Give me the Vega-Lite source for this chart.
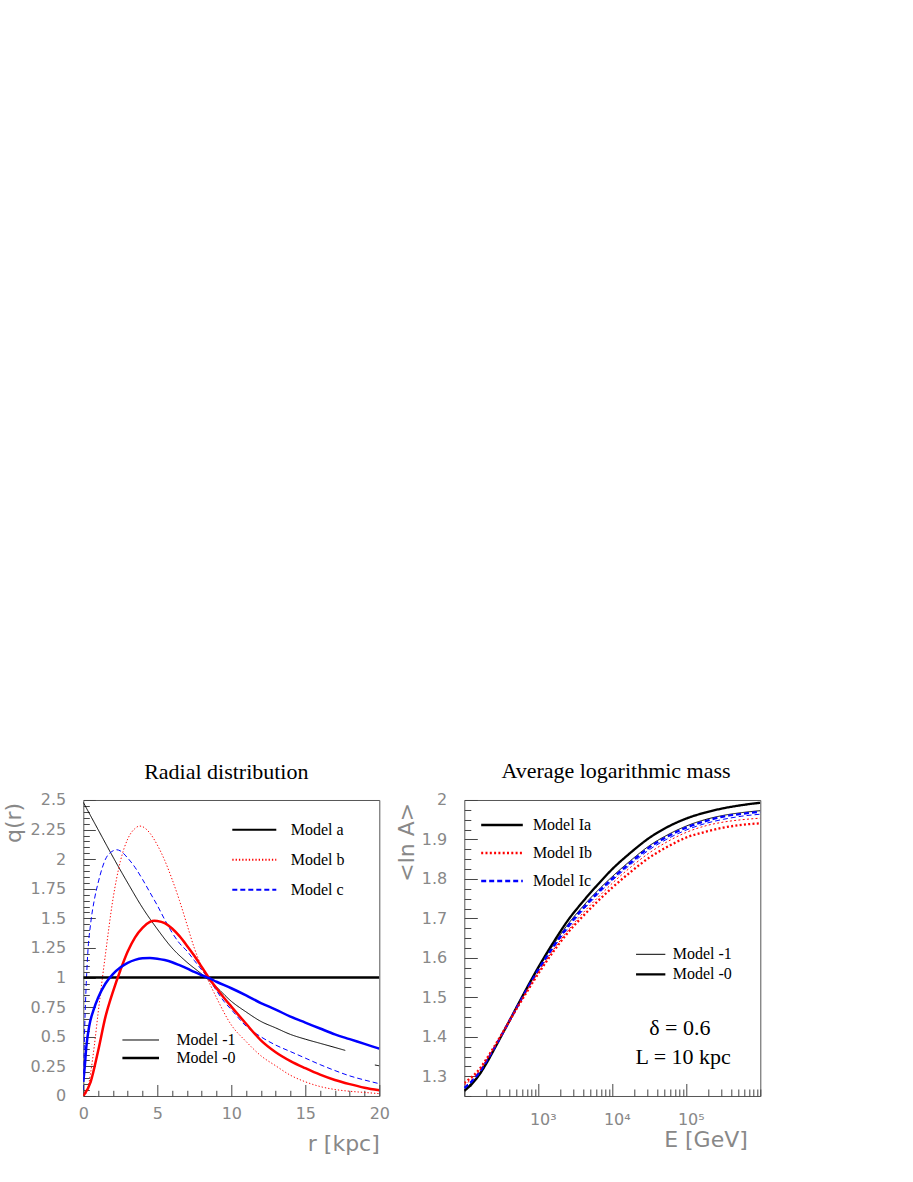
{
  "$schema": "https://vega.github.io/schema/vega-lite/v6.json",
  "background": "white",
  "padding": {"left": 2.3, "top": 760, "right": 5, "bottom": 5},
  "bounds": "flush",
  "spacing": 85,
  "config": {
    "view": {"stroke": "#555", "strokeWidth": 1},
    "mark": {"color": "black"},
    "axis": {"grid": false, "domain": false, "tickColor": "#444", "tickWidth": 1,
      "labelFont": "DejaVu Sans", "labelFontSize": 16, "labelColor": "#888",
      "titleFont": "DejaVu Sans", "titleFontSize": 22, "titleColor": "#888", "titleFontWeight": "normal",
      "labelOverlap": false, "labelFlush": false},
    "legend": {"labelFont": "Liberation Serif", "labelFontSize": 16, "labelColor": "black", "padding": 0, "rowPadding": 0},
    "title": {"font": "Liberation Serif", "fontSize": 22, "fontWeight": "normal", "color": "black", "anchor": "middle", "frame": "group"}
  },
  "resolve": {"scale": {"color": "independent", "strokeDash": "independent", "strokeWidth": "independent"}},
  "hconcat": [
    {
      "width": 296, "height": 296,
      "title": {"text": "Radial distribution", "baseline": "alphabetic", "offset": -9, "dx": -5},
      "data": {"values": [
        {"r":0,"q":2.48,"model":"Model a","variant":"Model -1","series":"a1"},
        {"r":1,"q":2.25,"model":"Model a","variant":"Model -1","series":"a1"},
        {"r":2,"q":2.02,"model":"Model a","variant":"Model -1","series":"a1"},
        {"r":3,"q":1.8,"model":"Model a","variant":"Model -1","series":"a1"},
        {"r":4,"q":1.59,"model":"Model a","variant":"Model -1","series":"a1"},
        {"r":5,"q":1.41,"model":"Model a","variant":"Model -1","series":"a1"},
        {"r":6,"q":1.25,"model":"Model a","variant":"Model -1","series":"a1"},
        {"r":7,"q":1.13,"model":"Model a","variant":"Model -1","series":"a1"},
        {"r":8,"q":1.03,"model":"Model a","variant":"Model -1","series":"a1"},
        {"r":9,"q":0.92,"model":"Model a","variant":"Model -1","series":"a1"},
        {"r":10,"q":0.8,"model":"Model a","variant":"Model -1","series":"a1"},
        {"r":11,"q":0.71,"model":"Model a","variant":"Model -1","series":"a1"},
        {"r":12,"q":0.63,"model":"Model a","variant":"Model -1","series":"a1"},
        {"r":13,"q":0.575,"model":"Model a","variant":"Model -1","series":"a1"},
        {"r":14,"q":0.52,"model":"Model a","variant":"Model -1","series":"a1"},
        {"r":15,"q":0.48,"model":"Model a","variant":"Model -1","series":"a1"},
        {"r":16,"q":0.445,"model":"Model a","variant":"Model -1","series":"a1"},
        {"r":17,"q":0.41,"model":"Model a","variant":"Model -1","series":"a1"},
        {"r":17.7,"q":0.385,"model":"Model a","variant":"Model -1","series":"a1"},
        {"r":19.7,"q":0.262,"model":"Model a","variant":"Model -1","series":"a1t"},
        {"r":20,"q":0.255,"model":"Model a","variant":"Model -1","series":"a1t"},
        {"r":0,"q":0,"model":"Model b","variant":"Model -1","series":"b1"},
        {"r":0.25,"q":0.04,"model":"Model b","variant":"Model -1","series":"b1"},
        {"r":0.5,"q":0.2,"model":"Model b","variant":"Model -1","series":"b1"},
        {"r":0.75,"q":0.43,"model":"Model b","variant":"Model -1","series":"b1"},
        {"r":1,"q":0.7,"model":"Model b","variant":"Model -1","series":"b1"},
        {"r":1.5,"q":1.2,"model":"Model b","variant":"Model -1","series":"b1"},
        {"r":2,"q":1.66,"model":"Model b","variant":"Model -1","series":"b1"},
        {"r":2.5,"q":1.98,"model":"Model b","variant":"Model -1","series":"b1"},
        {"r":3,"q":2.17,"model":"Model b","variant":"Model -1","series":"b1"},
        {"r":3.5,"q":2.26,"model":"Model b","variant":"Model -1","series":"b1"},
        {"r":3.8,"q":2.28,"model":"Model b","variant":"Model -1","series":"b1"},
        {"r":4,"q":2.275,"model":"Model b","variant":"Model -1","series":"b1"},
        {"r":4.5,"q":2.22,"model":"Model b","variant":"Model -1","series":"b1"},
        {"r":5,"q":2.12,"model":"Model b","variant":"Model -1","series":"b1"},
        {"r":5.5,"q":1.99,"model":"Model b","variant":"Model -1","series":"b1"},
        {"r":6,"q":1.83,"model":"Model b","variant":"Model -1","series":"b1"},
        {"r":6.5,"q":1.65,"model":"Model b","variant":"Model -1","series":"b1"},
        {"r":7,"q":1.45,"model":"Model b","variant":"Model -1","series":"b1"},
        {"r":7.5,"q":1.25,"model":"Model b","variant":"Model -1","series":"b1"},
        {"r":8,"q":1.09,"model":"Model b","variant":"Model -1","series":"b1"},
        {"r":8.5,"q":0.96,"model":"Model b","variant":"Model -1","series":"b1"},
        {"r":9,"q":0.83,"model":"Model b","variant":"Model -1","series":"b1"},
        {"r":10,"q":0.6,"model":"Model b","variant":"Model -1","series":"b1"},
        {"r":11,"q":0.46,"model":"Model b","variant":"Model -1","series":"b1"},
        {"r":12,"q":0.34,"model":"Model b","variant":"Model -1","series":"b1"},
        {"r":13,"q":0.255,"model":"Model b","variant":"Model -1","series":"b1"},
        {"r":14,"q":0.175,"model":"Model b","variant":"Model -1","series":"b1"},
        {"r":15,"q":0.12,"model":"Model b","variant":"Model -1","series":"b1"},
        {"r":16,"q":0.08,"model":"Model b","variant":"Model -1","series":"b1"},
        {"r":17,"q":0.055,"model":"Model b","variant":"Model -1","series":"b1"},
        {"r":18,"q":0.04,"model":"Model b","variant":"Model -1","series":"b1"},
        {"r":19,"q":0.03,"model":"Model b","variant":"Model -1","series":"b1"},
        {"r":20,"q":0.02,"model":"Model b","variant":"Model -1","series":"b1"},
        {"r":0,"q":0.05,"model":"Model c","variant":"Model -1","series":"c1"},
        {"r":0.1,"q":0.6,"model":"Model c","variant":"Model -1","series":"c1"},
        {"r":0.2,"q":0.95,"model":"Model c","variant":"Model -1","series":"c1"},
        {"r":0.3,"q":1.2,"model":"Model c","variant":"Model -1","series":"c1"},
        {"r":0.5,"q":1.46,"model":"Model c","variant":"Model -1","series":"c1"},
        {"r":0.75,"q":1.66,"model":"Model c","variant":"Model -1","series":"c1"},
        {"r":1,"q":1.8,"model":"Model c","variant":"Model -1","series":"c1"},
        {"r":1.5,"q":2.0,"model":"Model c","variant":"Model -1","series":"c1"},
        {"r":2,"q":2.07,"model":"Model c","variant":"Model -1","series":"c1"},
        {"r":2.25,"q":2.08,"model":"Model c","variant":"Model -1","series":"c1"},
        {"r":2.5,"q":2.07,"model":"Model c","variant":"Model -1","series":"c1"},
        {"r":3,"q":2.01,"model":"Model c","variant":"Model -1","series":"c1"},
        {"r":3.5,"q":1.93,"model":"Model c","variant":"Model -1","series":"c1"},
        {"r":4,"q":1.83,"model":"Model c","variant":"Model -1","series":"c1"},
        {"r":4.5,"q":1.72,"model":"Model c","variant":"Model -1","series":"c1"},
        {"r":5,"q":1.61,"model":"Model c","variant":"Model -1","series":"c1"},
        {"r":5.5,"q":1.49,"model":"Model c","variant":"Model -1","series":"c1"},
        {"r":6,"q":1.38,"model":"Model c","variant":"Model -1","series":"c1"},
        {"r":6.5,"q":1.29,"model":"Model c","variant":"Model -1","series":"c1"},
        {"r":7,"q":1.225,"model":"Model c","variant":"Model -1","series":"c1"},
        {"r":7.5,"q":1.145,"model":"Model c","variant":"Model -1","series":"c1"},
        {"r":8,"q":1.065,"model":"Model c","variant":"Model -1","series":"c1"},
        {"r":8.5,"q":0.985,"model":"Model c","variant":"Model -1","series":"c1"},
        {"r":9,"q":0.89,"model":"Model c","variant":"Model -1","series":"c1"},
        {"r":9.5,"q":0.8,"model":"Model c","variant":"Model -1","series":"c1"},
        {"r":10,"q":0.73,"model":"Model c","variant":"Model -1","series":"c1"},
        {"r":11,"q":0.59,"model":"Model c","variant":"Model -1","series":"c1"},
        {"r":12,"q":0.5,"model":"Model c","variant":"Model -1","series":"c1"},
        {"r":13,"q":0.43,"model":"Model c","variant":"Model -1","series":"c1"},
        {"r":14,"q":0.375,"model":"Model c","variant":"Model -1","series":"c1"},
        {"r":15,"q":0.32,"model":"Model c","variant":"Model -1","series":"c1"},
        {"r":16,"q":0.265,"model":"Model c","variant":"Model -1","series":"c1"},
        {"r":17,"q":0.215,"model":"Model c","variant":"Model -1","series":"c1"},
        {"r":18,"q":0.17,"model":"Model c","variant":"Model -1","series":"c1"},
        {"r":19,"q":0.135,"model":"Model c","variant":"Model -1","series":"c1"},
        {"r":20,"q":0.104,"model":"Model c","variant":"Model -1","series":"c1"},
        {"r":0,"q":1,"model":"Model a","variant":"Model -0","series":"a0"},
        {"r":20,"q":1,"model":"Model a","variant":"Model -0","series":"a0"},
        {"r":0,"q":0,"model":"Model b","variant":"Model -0","series":"b0"},
        {"r":0.5,"q":0.12,"model":"Model b","variant":"Model -0","series":"b0"},
        {"r":1,"q":0.38,"model":"Model b","variant":"Model -0","series":"b0"},
        {"r":1.5,"q":0.67,"model":"Model b","variant":"Model -0","series":"b0"},
        {"r":2,"q":0.88,"model":"Model b","variant":"Model -0","series":"b0"},
        {"r":2.5,"q":1.06,"model":"Model b","variant":"Model -0","series":"b0"},
        {"r":3,"q":1.22,"model":"Model b","variant":"Model -0","series":"b0"},
        {"r":3.5,"q":1.34,"model":"Model b","variant":"Model -0","series":"b0"},
        {"r":4,"q":1.42,"model":"Model b","variant":"Model -0","series":"b0"},
        {"r":4.5,"q":1.47,"model":"Model b","variant":"Model -0","series":"b0"},
        {"r":4.8,"q":1.48,"model":"Model b","variant":"Model -0","series":"b0"},
        {"r":5,"q":1.478,"model":"Model b","variant":"Model -0","series":"b0"},
        {"r":5.5,"q":1.46,"model":"Model b","variant":"Model -0","series":"b0"},
        {"r":6,"q":1.415,"model":"Model b","variant":"Model -0","series":"b0"},
        {"r":6.5,"q":1.35,"model":"Model b","variant":"Model -0","series":"b0"},
        {"r":7,"q":1.27,"model":"Model b","variant":"Model -0","series":"b0"},
        {"r":7.5,"q":1.185,"model":"Model b","variant":"Model -0","series":"b0"},
        {"r":8,"q":1.09,"model":"Model b","variant":"Model -0","series":"b0"},
        {"r":8.5,"q":0.995,"model":"Model b","variant":"Model -0","series":"b0"},
        {"r":9,"q":0.91,"model":"Model b","variant":"Model -0","series":"b0"},
        {"r":9.5,"q":0.83,"model":"Model b","variant":"Model -0","series":"b0"},
        {"r":10,"q":0.755,"model":"Model b","variant":"Model -0","series":"b0"},
        {"r":11,"q":0.61,"model":"Model b","variant":"Model -0","series":"b0"},
        {"r":12,"q":0.47,"model":"Model b","variant":"Model -0","series":"b0"},
        {"r":13,"q":0.37,"model":"Model b","variant":"Model -0","series":"b0"},
        {"r":14,"q":0.295,"model":"Model b","variant":"Model -0","series":"b0"},
        {"r":15,"q":0.235,"model":"Model b","variant":"Model -0","series":"b0"},
        {"r":16,"q":0.18,"model":"Model b","variant":"Model -0","series":"b0"},
        {"r":17,"q":0.135,"model":"Model b","variant":"Model -0","series":"b0"},
        {"r":18,"q":0.1,"model":"Model b","variant":"Model -0","series":"b0"},
        {"r":19,"q":0.07,"model":"Model b","variant":"Model -0","series":"b0"},
        {"r":20,"q":0.048,"model":"Model b","variant":"Model -0","series":"b0"},
        {"r":0,"q":0.12,"model":"Model c","variant":"Model -0","series":"c0"},
        {"r":0.1,"q":0.25,"model":"Model c","variant":"Model -0","series":"c0"},
        {"r":0.2,"q":0.41,"model":"Model c","variant":"Model -0","series":"c0"},
        {"r":0.4,"q":0.59,"model":"Model c","variant":"Model -0","series":"c0"},
        {"r":0.7,"q":0.73,"model":"Model c","variant":"Model -0","series":"c0"},
        {"r":1,"q":0.83,"model":"Model c","variant":"Model -0","series":"c0"},
        {"r":1.5,"q":0.95,"model":"Model c","variant":"Model -0","series":"c0"},
        {"r":2,"q":1.03,"model":"Model c","variant":"Model -0","series":"c0"},
        {"r":2.5,"q":1.085,"model":"Model c","variant":"Model -0","series":"c0"},
        {"r":3,"q":1.125,"model":"Model c","variant":"Model -0","series":"c0"},
        {"r":3.5,"q":1.15,"model":"Model c","variant":"Model -0","series":"c0"},
        {"r":4,"q":1.163,"model":"Model c","variant":"Model -0","series":"c0"},
        {"r":4.5,"q":1.166,"model":"Model c","variant":"Model -0","series":"c0"},
        {"r":5,"q":1.16,"model":"Model c","variant":"Model -0","series":"c0"},
        {"r":5.5,"q":1.148,"model":"Model c","variant":"Model -0","series":"c0"},
        {"r":6,"q":1.13,"model":"Model c","variant":"Model -0","series":"c0"},
        {"r":6.5,"q":1.105,"model":"Model c","variant":"Model -0","series":"c0"},
        {"r":7,"q":1.078,"model":"Model c","variant":"Model -0","series":"c0"},
        {"r":7.5,"q":1.048,"model":"Model c","variant":"Model -0","series":"c0"},
        {"r":8,"q":1.02,"model":"Model c","variant":"Model -0","series":"c0"},
        {"r":8.5,"q":0.995,"model":"Model c","variant":"Model -0","series":"c0"},
        {"r":9,"q":0.965,"model":"Model c","variant":"Model -0","series":"c0"},
        {"r":10,"q":0.91,"model":"Model c","variant":"Model -0","series":"c0"},
        {"r":11,"q":0.85,"model":"Model c","variant":"Model -0","series":"c0"},
        {"r":12,"q":0.785,"model":"Model c","variant":"Model -0","series":"c0"},
        {"r":13,"q":0.73,"model":"Model c","variant":"Model -0","series":"c0"},
        {"r":14,"q":0.67,"model":"Model c","variant":"Model -0","series":"c0"},
        {"r":15,"q":0.62,"model":"Model c","variant":"Model -0","series":"c0"},
        {"r":16,"q":0.57,"model":"Model c","variant":"Model -0","series":"c0"},
        {"r":17,"q":0.52,"model":"Model c","variant":"Model -0","series":"c0"},
        {"r":18,"q":0.48,"model":"Model c","variant":"Model -0","series":"c0"},
        {"r":19,"q":0.44,"model":"Model c","variant":"Model -0","series":"c0"},
        {"r":20,"q":0.4,"model":"Model c","variant":"Model -0","series":"c0"}
      ]},
      "encoding": {
        "x": {"field": "r", "type": "quantitative", "title": "r [kpc]",
          "scale": {"domain": [0, 20], "nice": false, "zero": false},
          "axis": {
            "values": [0,1,2,3,4,5,6,7,8,9,10,11,12,13,14,15,16,17,18,19,20],
            "tickSize": {"condition": {"test": "datum.value % 5 === 0", "value": -11.5}, "value": -5.7},
            "labelExpr": "datum.value % 5 === 0 ? datum.label : ''",
            "labelPadding": 21, "labelOverlap": false,
            "titleAnchor": "end", "titleAlign": "right", "titleBaseline": "alphabetic", "titleX": 296, "titleY": 55
          }},
        "y": {"field": "q", "type": "quantitative", "title": "q(r)",
          "scale": {"domain": [0, 2.5], "nice": false},
          "axis": {
            "values": [0,0.05,0.1,0.15,0.2,0.25,0.3,0.35,0.4,0.45,0.5,0.55,0.6,0.65,0.7,0.75,0.8,0.85,0.9,0.95,1,1.05,1.1,1.15,1.2,1.25,1.3,1.35,1.4,1.45,1.5,1.55,1.6,1.65,1.7,1.75,1.8,1.85,1.9,1.95,2,2.05,2.1,2.15,2.2,2.25,2.3,2.35,2.4,2.45,2.5],
            "tickSize": {"condition": {"test": "abs(datum.value*4 - round(datum.value*4)) < 0.001", "value": -12}, "value": -6},
            "labelExpr": "abs(datum.value*4 - round(datum.value*4)) < 0.001 ? format(datum.value, '~g') : ''",
            "labelPadding": 29.6, "labelOverlap": false,
            "titleAlign": "right", "titleBaseline": "alphabetic", "titleX": -62.3, "titleY": 2.3
          }},
        "color": {"field": "model", "type": "nominal",
          "scale": {"domain": ["Model a", "Model b", "Model c"], "range": ["#000000", "#ff0000", "#0000ff"]},
          "legend": {"title": null, "orient": "none", "legendX": 148, "legendY": 14.7, "symbolType": "stroke", "symbolSize": 1936, "symbolStrokeWidth": 2, "clipHeight": 30, "labelOffset": 13.5}},
        "strokeWidth": {"field": "variant", "type": "nominal",
          "scale": {"domain": ["Model -1", "Model -0"], "range": [1, 2.5]},
          "legend": {"title": null, "orient": "none", "legendX": 37.4, "legendY": 231, "symbolType": "stroke", "symbolSize": 1340, "symbolStrokeColor": "black", "clipHeight": 18, "labelOffset": 15.7}},
        "detail": {"field": "series"}
      },
      "layer": [
        {
          "transform": [{"filter": "datum.variant === 'Model -1'"}],
          "mark": {"type": "line", "interpolate": "monotone", "clip": true},
          "encoding": {
            "strokeDash": {"field": "model", "type": "nominal",
              "scale": {"domain": ["Model a", "Model b", "Model c"], "range": [[1, 0], [1.3, 2], [5, 3]]},
              "legend": {"title": null, "orient": "none", "legendX": 148, "legendY": 14.7, "symbolType": "stroke", "symbolSize": 1936, "symbolStrokeWidth": 2, "clipHeight": 30, "labelOffset": 13.5}}
          }
        },
        {
          "transform": [{"filter": "datum.variant === 'Model -0'"}],
          "mark": {"type": "line", "interpolate": "monotone", "clip": true}
        }
      ]
    },
    {
      "width": 296, "height": 296,
      "title": {"text": "Average logarithmic mass", "baseline": "alphabetic", "offset": -8.5, "dx": 3.7},
      "resolve": {"axis": {"x": "independent", "y": "independent"}},
      "layer": [
        {
          "data": {"values": [
            {"E":100,"v":1.263,"model":"Model Ia","variant":"Model -0"},
            {"E":125.9,"v":1.28,"model":"Model Ia","variant":"Model -0"},
            {"E":158.5,"v":1.303,"model":"Model Ia","variant":"Model -0"},
            {"E":199.5,"v":1.333,"model":"Model Ia","variant":"Model -0"},
            {"E":251.2,"v":1.367,"model":"Model Ia","variant":"Model -0"},
            {"E":316.2,"v":1.402,"model":"Model Ia","variant":"Model -0"},
            {"E":398.1,"v":1.437,"model":"Model Ia","variant":"Model -0"},
            {"E":631,"v":1.508,"model":"Model Ia","variant":"Model -0"},
            {"E":1000,"v":1.576,"model":"Model Ia","variant":"Model -0"},
            {"E":1585,"v":1.638,"model":"Model Ia","variant":"Model -0"},
            {"E":2512,"v":1.695,"model":"Model Ia","variant":"Model -0"},
            {"E":3981,"v":1.742,"model":"Model Ia","variant":"Model -0"},
            {"E":6310,"v":1.785,"model":"Model Ia","variant":"Model -0"},
            {"E":10000,"v":1.825,"model":"Model Ia","variant":"Model -0"},
            {"E":17783,"v":1.867,"model":"Model Ia","variant":"Model -0"},
            {"E":31623,"v":1.904,"model":"Model Ia","variant":"Model -0"},
            {"E":56234,"v":1.932,"model":"Model Ia","variant":"Model -0"},
            {"E":100000,"v":1.953,"model":"Model Ia","variant":"Model -0"},
            {"E":177828,"v":1.968,"model":"Model Ia","variant":"Model -0"},
            {"E":316228,"v":1.979,"model":"Model Ia","variant":"Model -0"},
            {"E":562341,"v":1.987,"model":"Model Ia","variant":"Model -0"},
            {"E":1000000,"v":1.993,"model":"Model Ia","variant":"Model -0"},
            {"E":100,"v":1.266,"model":"Model Ia","variant":"Model -1"},
            {"E":125.9,"v":1.284,"model":"Model Ia","variant":"Model -1"},
            {"E":158.5,"v":1.306,"model":"Model Ia","variant":"Model -1"},
            {"E":199.5,"v":1.336,"model":"Model Ia","variant":"Model -1"},
            {"E":251.2,"v":1.369,"model":"Model Ia","variant":"Model -1"},
            {"E":316.2,"v":1.403,"model":"Model Ia","variant":"Model -1"},
            {"E":398.1,"v":1.438,"model":"Model Ia","variant":"Model -1"},
            {"E":631,"v":1.507,"model":"Model Ia","variant":"Model -1"},
            {"E":1000,"v":1.573,"model":"Model Ia","variant":"Model -1"},
            {"E":1585,"v":1.632,"model":"Model Ia","variant":"Model -1"},
            {"E":2512,"v":1.685,"model":"Model Ia","variant":"Model -1"},
            {"E":3981,"v":1.73,"model":"Model Ia","variant":"Model -1"},
            {"E":6310,"v":1.77,"model":"Model Ia","variant":"Model -1"},
            {"E":10000,"v":1.806,"model":"Model Ia","variant":"Model -1"},
            {"E":17783,"v":1.847,"model":"Model Ia","variant":"Model -1"},
            {"E":31623,"v":1.884,"model":"Model Ia","variant":"Model -1"},
            {"E":56234,"v":1.912,"model":"Model Ia","variant":"Model -1"},
            {"E":100000,"v":1.934,"model":"Model Ia","variant":"Model -1"},
            {"E":177828,"v":1.95,"model":"Model Ia","variant":"Model -1"},
            {"E":316228,"v":1.961,"model":"Model Ia","variant":"Model -1"},
            {"E":562341,"v":1.968,"model":"Model Ia","variant":"Model -1"},
            {"E":1000000,"v":1.973,"model":"Model Ia","variant":"Model -1"},
            {"E":100,"v":1.27,"model":"Model Ic","variant":"Model -0"},
            {"E":125.9,"v":1.287,"model":"Model Ic","variant":"Model -0"},
            {"E":158.5,"v":1.309,"model":"Model Ic","variant":"Model -0"},
            {"E":199.5,"v":1.338,"model":"Model Ic","variant":"Model -0"},
            {"E":251.2,"v":1.37,"model":"Model Ic","variant":"Model -0"},
            {"E":316.2,"v":1.403,"model":"Model Ic","variant":"Model -0"},
            {"E":398.1,"v":1.437,"model":"Model Ic","variant":"Model -0"},
            {"E":631,"v":1.505,"model":"Model Ic","variant":"Model -0"},
            {"E":1000,"v":1.57,"model":"Model Ic","variant":"Model -0"},
            {"E":1585,"v":1.628,"model":"Model Ic","variant":"Model -0"},
            {"E":2512,"v":1.68,"model":"Model Ic","variant":"Model -0"},
            {"E":3981,"v":1.725,"model":"Model Ic","variant":"Model -0"},
            {"E":6310,"v":1.765,"model":"Model Ic","variant":"Model -0"},
            {"E":10000,"v":1.801,"model":"Model Ic","variant":"Model -0"},
            {"E":17783,"v":1.842,"model":"Model Ic","variant":"Model -0"},
            {"E":31623,"v":1.88,"model":"Model Ic","variant":"Model -0"},
            {"E":56234,"v":1.908,"model":"Model Ic","variant":"Model -0"},
            {"E":100000,"v":1.93,"model":"Model Ic","variant":"Model -0"},
            {"E":177828,"v":1.946,"model":"Model Ic","variant":"Model -0"},
            {"E":316228,"v":1.958,"model":"Model Ic","variant":"Model -0"},
            {"E":562341,"v":1.965,"model":"Model Ic","variant":"Model -0"},
            {"E":1000000,"v":1.97,"model":"Model Ic","variant":"Model -0"},
            {"E":100,"v":1.272,"model":"Model Ic","variant":"Model -1"},
            {"E":125.9,"v":1.289,"model":"Model Ic","variant":"Model -1"},
            {"E":158.5,"v":1.311,"model":"Model Ic","variant":"Model -1"},
            {"E":199.5,"v":1.339,"model":"Model Ic","variant":"Model -1"},
            {"E":251.2,"v":1.371,"model":"Model Ic","variant":"Model -1"},
            {"E":316.2,"v":1.404,"model":"Model Ic","variant":"Model -1"},
            {"E":398.1,"v":1.437,"model":"Model Ic","variant":"Model -1"},
            {"E":631,"v":1.504,"model":"Model Ic","variant":"Model -1"},
            {"E":1000,"v":1.567,"model":"Model Ic","variant":"Model -1"},
            {"E":1585,"v":1.624,"model":"Model Ic","variant":"Model -1"},
            {"E":2512,"v":1.675,"model":"Model Ic","variant":"Model -1"},
            {"E":3981,"v":1.72,"model":"Model Ic","variant":"Model -1"},
            {"E":6310,"v":1.76,"model":"Model Ic","variant":"Model -1"},
            {"E":10000,"v":1.796,"model":"Model Ic","variant":"Model -1"},
            {"E":17783,"v":1.837,"model":"Model Ic","variant":"Model -1"},
            {"E":31623,"v":1.874,"model":"Model Ic","variant":"Model -1"},
            {"E":56234,"v":1.902,"model":"Model Ic","variant":"Model -1"},
            {"E":100000,"v":1.924,"model":"Model Ic","variant":"Model -1"},
            {"E":177828,"v":1.94,"model":"Model Ic","variant":"Model -1"},
            {"E":316228,"v":1.951,"model":"Model Ic","variant":"Model -1"},
            {"E":562341,"v":1.959,"model":"Model Ic","variant":"Model -1"},
            {"E":1000000,"v":1.964,"model":"Model Ic","variant":"Model -1"},
            {"E":100,"v":1.278,"model":"Model Ib","variant":"Model -1"},
            {"E":125.9,"v":1.293,"model":"Model Ib","variant":"Model -1"},
            {"E":158.5,"v":1.313,"model":"Model Ib","variant":"Model -1"},
            {"E":199.5,"v":1.341,"model":"Model Ib","variant":"Model -1"},
            {"E":251.2,"v":1.372,"model":"Model Ib","variant":"Model -1"},
            {"E":316.2,"v":1.404,"model":"Model Ib","variant":"Model -1"},
            {"E":398.1,"v":1.437,"model":"Model Ib","variant":"Model -1"},
            {"E":631,"v":1.502,"model":"Model Ib","variant":"Model -1"},
            {"E":1000,"v":1.563,"model":"Model Ib","variant":"Model -1"},
            {"E":1585,"v":1.619,"model":"Model Ib","variant":"Model -1"},
            {"E":2512,"v":1.669,"model":"Model Ib","variant":"Model -1"},
            {"E":3981,"v":1.713,"model":"Model Ib","variant":"Model -1"},
            {"E":6310,"v":1.752,"model":"Model Ib","variant":"Model -1"},
            {"E":10000,"v":1.789,"model":"Model Ib","variant":"Model -1"},
            {"E":17783,"v":1.83,"model":"Model Ib","variant":"Model -1"},
            {"E":31623,"v":1.866,"model":"Model Ib","variant":"Model -1"},
            {"E":56234,"v":1.895,"model":"Model Ib","variant":"Model -1"},
            {"E":100000,"v":1.918,"model":"Model Ib","variant":"Model -1"},
            {"E":177828,"v":1.934,"model":"Model Ib","variant":"Model -1"},
            {"E":316228,"v":1.944,"model":"Model Ib","variant":"Model -1"},
            {"E":562341,"v":1.95,"model":"Model Ib","variant":"Model -1"},
            {"E":1000000,"v":1.954,"model":"Model Ib","variant":"Model -1"},
            {"E":100,"v":1.283,"model":"Model Ib","variant":"Model -0"},
            {"E":125.9,"v":1.298,"model":"Model Ib","variant":"Model -0"},
            {"E":158.5,"v":1.317,"model":"Model Ib","variant":"Model -0"},
            {"E":199.5,"v":1.344,"model":"Model Ib","variant":"Model -0"},
            {"E":251.2,"v":1.374,"model":"Model Ib","variant":"Model -0"},
            {"E":316.2,"v":1.405,"model":"Model Ib","variant":"Model -0"},
            {"E":398.1,"v":1.437,"model":"Model Ib","variant":"Model -0"},
            {"E":631,"v":1.5,"model":"Model Ib","variant":"Model -0"},
            {"E":1000,"v":1.56,"model":"Model Ib","variant":"Model -0"},
            {"E":1585,"v":1.615,"model":"Model Ib","variant":"Model -0"},
            {"E":2512,"v":1.664,"model":"Model Ib","variant":"Model -0"},
            {"E":3981,"v":1.705,"model":"Model Ib","variant":"Model -0"},
            {"E":6310,"v":1.743,"model":"Model Ib","variant":"Model -0"},
            {"E":10000,"v":1.778,"model":"Model Ib","variant":"Model -0"},
            {"E":17783,"v":1.818,"model":"Model Ib","variant":"Model -0"},
            {"E":31623,"v":1.854,"model":"Model Ib","variant":"Model -0"},
            {"E":56234,"v":1.882,"model":"Model Ib","variant":"Model -0"},
            {"E":100000,"v":1.905,"model":"Model Ib","variant":"Model -0"},
            {"E":177828,"v":1.919,"model":"Model Ib","variant":"Model -0"},
            {"E":316228,"v":1.93,"model":"Model Ib","variant":"Model -0"},
            {"E":562341,"v":1.937,"model":"Model Ib","variant":"Model -0"},
            {"E":1000000,"v":1.941,"model":"Model Ib","variant":"Model -0"}
          ]},
          "mark": {"type": "line", "interpolate": "monotone", "clip": true},
          "encoding": {
            "x": {"field": "E", "type": "quantitative", "title": "E [GeV]",
              "scale": {"type": "log", "domain": [100, 1000000], "nice": false},
              "axis": {
                "orient": "bottom",
                "values": [100,200,300,400,500,600,700,800,900,1000,2000,3000,4000,5000,6000,7000,8000,9000,10000,20000,30000,40000,50000,60000,70000,80000,90000,100000,200000,300000,400000,500000,600000,700000,800000,900000,1000000],
                "tickSize": {"condition": {"test": "datum.value === 1000 || datum.value === 10000 || datum.value === 100000", "value": -12.5}, "value": -7},
                "labelExpr": "datum.value === 1000 ? '10³' : datum.value === 10000 ? '10⁴' : datum.value === 100000 ? '10⁵' : ''",
                "labelPadding": 27.8, "labelOffset": 4.5, "labelOverlap": false,
                "titleAnchor": "end", "titleAlign": "right", "titleBaseline": "alphabetic", "titleX": 283, "titleY": 51
              }},
            "y": {"field": "v", "type": "quantitative", "title": "<ln A>",
              "scale": {"domain": [1.25, 2.0], "nice": false, "zero": false},
              "axis": {
                "orient": "left",
                "values": [1.25,1.275,1.3,1.325,1.35,1.375,1.4,1.425,1.45,1.475,1.5,1.525,1.55,1.575,1.6,1.625,1.65,1.675,1.7,1.725,1.75,1.775,1.8,1.825,1.85,1.875,1.9,1.925,1.95,1.975,2],
                "tickSize": {"condition": {"test": "abs(datum.value*10 - round(datum.value*10)) < 0.001", "value": -13}, "value": -6.5},
                "labelExpr": "abs(datum.value*10 - round(datum.value*10)) < 0.001 ? format(datum.value, '~g') : ''",
                "labelPadding": 30.6, "labelOverlap": false,
                "titleAlign": "right", "titleBaseline": "alphabetic", "titleX": -50.3, "titleY": 2.3
              }},
            "color": {"field": "model", "type": "nominal",
              "scale": {"domain": ["Model Ia", "Model Ib", "Model Ic"], "range": ["#000000", "#ff0000", "#0000ff"]},
              "legend": {"title": null, "orient": "none", "legendX": 15.2, "legendY": 11, "symbolType": "stroke", "symbolSize": 1731, "symbolStrokeWidth": 2.5, "clipHeight": 28, "labelOffset": 8.4}},
            "strokeDash": {"field": "model", "type": "nominal",
              "scale": {"domain": ["Model Ia", "Model Ib", "Model Ic"], "range": [[1, 0], [2, 2.3], [5, 3]]},
              "legend": {"title": null, "orient": "none", "legendX": 15.2, "legendY": 11, "symbolType": "stroke", "symbolSize": 1731, "symbolStrokeWidth": 2.5, "clipHeight": 28, "labelOffset": 8.4}},
            "strokeWidth": {"field": "variant", "type": "nominal",
              "scale": {"domain": ["Model -1", "Model -0"], "range": [1, 2.3]},
              "legend": {"title": null, "orient": "none", "legendX": 170.4, "legendY": 144.3, "symbolType": "stroke", "symbolSize": 858, "symbolStrokeColor": "black", "clipHeight": 20, "labelOffset": 6}}
          }
        },
        {
          "data": {"values": [{}]},
          "mark": {"type": "text", "font": "Liberation Serif", "fontSize": 22, "align": "center", "baseline": "alphabetic", "color": "black"},
          "encoding": {
            "x": {"datum": 81700, "type": "quantitative", "axis": null},
            "y": {"datum": 1.4033, "type": "quantitative", "axis": null},
            "text": {"value": "δ = 0.6"}
          }
        },
        {
          "data": {"values": [{}]},
          "mark": {"type": "text", "font": "Liberation Serif", "fontSize": 22, "align": "center", "baseline": "alphabetic", "color": "black"},
          "encoding": {
            "x": {"datum": 90800, "type": "quantitative", "axis": null},
            "y": {"datum": 1.3316, "type": "quantitative", "axis": null},
            "text": {"value": "L = 10 kpc"}
          }
        }
      ]
    }
  ]
}
